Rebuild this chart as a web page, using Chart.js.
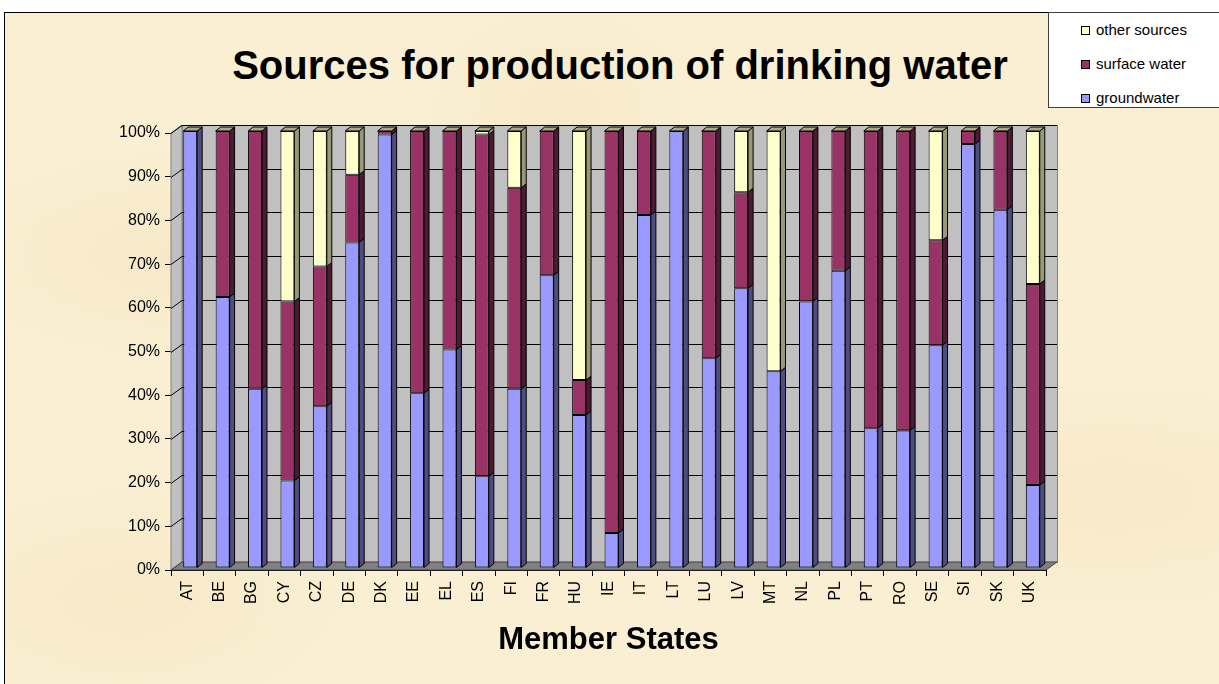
<!DOCTYPE html>
<html>
<head>
<meta charset="utf-8">
<script src="https://cdn.jsdelivr.net/npm/chart.js@4.4.1/dist/chart.umd.min.js"></script>
<style>
  html, body { margin:0; padding:0; background:#ffffff; width:1219px; height:684px; overflow:hidden;
    font-family: Arial, "Liberation Sans", sans-serif; }
  #frame { position:absolute; left:4px; top:12px; width:1230px; height:690px;
    background:#faefd2;
    background-image:
      radial-gradient(ellipse at 15% 35%, rgba(242,226,188,0.45) 0, rgba(242,226,188,0) 18%),
      radial-gradient(ellipse at 45% 15%, rgba(242,226,188,0.4) 0, rgba(242,226,188,0) 15%),
      radial-gradient(ellipse at 90% 70%, rgba(242,226,188,0.4) 0, rgba(242,226,188,0) 18%),
      radial-gradient(ellipse at 10% 85%, rgba(242,226,188,0.4) 0, rgba(242,226,188,0) 15%);
    border-left:1px solid #000; border-top:1px solid #000; }
  #wrap { position:absolute; left:0; top:0; width:1219px; height:684px; }
  #title { position:absolute; left:170px; width:900px; top:41px; height:48px; line-height:48px;
    text-align:center; font-weight:bold; font-size:40px; color:#000; white-space:nowrap; }
  #legend { position:absolute; left:1048px; top:12px; width:180px; height:94px; background:#fff;
    border:1px solid #404040; }
  .item { position:absolute; left:32px; height:20px; line-height:20px; font-size:15px; color:#000; white-space:nowrap; }
  .sw { display:inline-block; width:7px; height:7px; border:1px solid #000; margin-right:6px; vertical-align:0px; }
</style>
</head>
<body>
<div id="frame"></div>
<div id="title">Sources for production of drinking water</div>
<div id="wrap"><canvas id="c"></canvas></div>
<div id="legend"></div>
<script>
// ---- data ----
const categories = ['AT','BE','BG','CY','CZ','DE','DK','EE','EL','ES','FI','FR','HU','IE','IT','LT','LU','LV','MT','NL','PL','PT','RO','SE','SI','SK','UK'];
const groundwater = [100, 62, 41, 20, 37, 74.5, 99.2, 40, 50, 21, 41, 67, 35, 8, 80.8, 100, 48, 64, 45, 61, 68, 32, 31.5, 51, 97, 82, 19];
const surfaceWater = [0, 38, 59, 41, 32, 15.5, 0.8, 60, 50, 78.2, 46, 33, 8, 92, 19.2, 0, 52, 22, 0, 39, 32, 68, 68.5, 24, 3, 18, 46];
const otherSources = [0, 0, 0, 39, 31, 10, 0, 0, 0, 0.8, 13, 0, 57, 0, 0, 0, 0, 14, 55, 0, 0, 0, 0, 25, 0, 0, 35];
const seriesNames = ['groundwater', 'surface water', 'other sources'];
const yTickValues = [0,10,20,30,40,50,60,70,80,90,100];

const FONT = 'Arial, "Liberation Sans", sans-serif';
const fillColors = ['#9999FF', '#993366', '#FFFFCC'];
const sideColors = ['#4d4d80', '#4d1a33', '#999977'];
const capColor = '#a9a985';

// legend (reversed order, like the reference)
const legendEl = document.getElementById('legend');
[2,1,0].forEach((si, row) => {
  const d = document.createElement('div');
  d.className = 'item';
  d.style.top = (7 + row * 34) + 'px';
  d.innerHTML = '<span class="sw" style="background:' + fillColors[si] + '"></span>' + seriesNames[si];
  legendEl.appendChild(d);
});

const DX = 11, DY = -8;      // depth of walls
const BDX = 5, BDY = -4;     // depth of bars
const SHIFT_X = 3, SHIFT_Y = -2;

function poly(ctx, pts) {
  ctx.beginPath();
  ctx.moveTo(pts[0][0], pts[0][1]);
  for (let i = 1; i < pts.length; i++) ctx.lineTo(pts[i][0], pts[i][1]);
  ctx.closePath();
}

const threeD = {
  id: 'threeD',
  beforeDatasetsDraw(chart) {
    const ctx = chart.ctx, a = chart.chartArea, y = chart.scales.y;
    ctx.save();
    ctx.lineWidth = 1;
    ctx.strokeStyle = '#808080';
    // back wall
    ctx.fillStyle = '#c0c0c0';
    ctx.fillRect(a.left + DX, a.top + DY, a.right - a.left, a.bottom - a.top);
    ctx.strokeRect(a.left + DX + 0.5, a.top + DY + 0.5, a.right - a.left, a.bottom - a.top);
    // left wall
    poly(ctx, [[a.left, a.top], [a.left + DX, a.top + DY], [a.left + DX, a.bottom + DY], [a.left, a.bottom]]);
    ctx.fillStyle = '#c0c0c0'; ctx.fill(); ctx.stroke();
    // gridlines
    ctx.strokeStyle = '#000';
    yTickValues.forEach(v => {
      const py = Math.round(y.getPixelForValue(v)) + 0.5;
      ctx.beginPath();
      ctx.moveTo(a.left + DX, py + DY);
      ctx.lineTo(a.right + DX, py + DY);
      ctx.moveTo(a.left, py);
      ctx.lineTo(a.left + DX, py + DY);
      ctx.stroke();
    });
    // floor
    poly(ctx, [[a.left, a.bottom], [a.left + DX, a.bottom + DY], [a.right + DX, a.bottom + DY], [a.right, a.bottom]]);
    ctx.fillStyle = '#808080'; ctx.fill();
    ctx.strokeStyle = '#404040'; ctx.stroke();
    ctx.restore();
    ctx.save();
    ctx.translate(SHIFT_X, SHIFT_Y);
  },
  afterDatasetsDraw(chart) {
    const ctx = chart.ctx, y = chart.scales.y;
    ctx.lineWidth = 1;
    ctx.strokeStyle = '#000';
    chart.data.datasets.forEach((ds, i) => {
      const meta = chart.getDatasetMeta(i);
      meta.data.forEach((bar, j) => {
        if (!ds.data[j]) return;
        const p = bar.getProps(['x', 'y', 'base', 'width'], true);
        const r = p.x + p.width / 2;
        const top = Math.min(p.y, p.base), bot = Math.max(p.y, p.base);
        poly(ctx, [[r, top], [r + BDX, top + BDY], [r + BDX, bot + BDY], [r, bot]]);
        ctx.fillStyle = sideColors[i]; ctx.fill(); ctx.stroke();
      });
    });
    const meta0 = chart.getDatasetMeta(0);
    meta0.data.forEach((bar, j) => {
      const total = groundwater[j] + surfaceWater[j] + otherSources[j];
      const p = bar.getProps(['x', 'width'], true);
      const yt = y.getPixelForValue(total);
      const l = p.x - p.width / 2, r = p.x + p.width / 2;
      poly(ctx, [[l, yt], [l + BDX, yt + BDY], [r + BDX, yt + BDY], [r, yt]]);
      ctx.fillStyle = capColor; ctx.fill(); ctx.stroke();
    });
    ctx.restore();
  }
};

const seriesData = [groundwater, surfaceWater, otherSources];
new Chart(document.getElementById('c'), {
  type: 'bar',
  data: {
    labels: categories,
    datasets: seriesData.map((d, i) => ({
      label: seriesNames[i],
      data: d,
      backgroundColor: fillColors[i],
      borderColor: '#000',
      borderWidth: 1,
      borderSkipped: false,
      barPercentage: 0.43,
      categoryPercentage: 1,
      clip: false
    }))
  },
  options: {
    responsive: true,
    maintainAspectRatio: false,
    animation: false,
    events: [],
    layout: { padding: { top: 133, right: 173, left: 0, bottom: 0 } },
    plugins: { legend: { display: false }, title: { display: false }, tooltip: { enabled: false } },
    scales: {
      x: {
        stacked: true,
        grid: { display: true, drawOnChartArea: false, offset: true, tickLength: 6, color: '#000' },
        border: { color: '#000' },
        ticks: { minRotation: 90, maxRotation: 90, autoSkip: false, padding: 5, color: '#000',
                 font: { family: FONT, size: 16 } },
        title: { display: true, text: 'Member States', color: '#000',
                 font: { family: FONT, size: 31, weight: 'bold' }, padding: { top: 0, bottom: 25 } },
        afterFit(s) { s.height = 114; }
      },
      y: {
        stacked: true,
        min: 0, max: 100,
        afterBuildTicks(s) { s.ticks = yTickValues.map(v => ({ value: v })); },
        ticks: { padding: 5, color: '#000', font: { family: FONT, size: 16 }, callback: v => v + '%' },
        grid: { drawOnChartArea: false, tickLength: 6, color: '#000' },
        border: { color: '#000' },
        afterFit(s) { s.width = 171; }
      }
    }
  },
  plugins: [threeD]
});
</script>
</body>
</html>
